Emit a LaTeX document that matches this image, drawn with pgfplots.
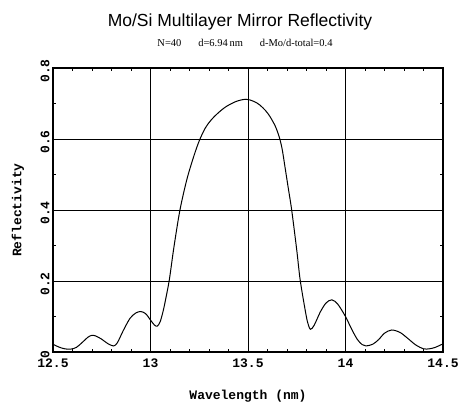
\documentclass[border=0pt]{standalone}
\usepackage{pgfplots}
\pgfplotsset{compat=1.18}
\usepackage{fontspec}
\setmainfont{Liberation Serif}
\newfontfamily\titlefont{Liberation Sans}
\newfontfamily\monofont{Liberation Mono}
\begin{document}
\begin{tikzpicture}
\useasboundingbox (0,0) rectangle (460pt,405pt);
\node[anchor=base, font=\titlefont\fontsize{17.5}{20}\selectfont] at (240pt,378pt) {Mo/Si Multilayer Mirror Reflectivity};
\node[anchor=base, font=\fontsize{10.5}{12}\selectfont] at (245pt,358pt) {N=40\hspace{1.6em}d=6.94\,nm\hspace{1.6em}d-Mo/d-total=0.4};
\begin{axis}[
  at={(53pt,53pt)}, anchor=south west,
  scale only axis, width=390pt, height=284pt,
  xmin=12.5, xmax=14.5, ymin=0, ymax=0.8,
  xtick={12.5,13,13.5,14,14.5},
  ytick={0,0.2,0.4,0.6,0.8},
  minor x tick num=4, minor y tick num=1,
  tick align=inside,
  major tick length=4pt, minor tick length=3pt,
  grid=major,
  major grid style={black, line width=0.8pt},
  axis line style={black, line width=1.1pt},
  every tick/.style={black, line width=0.6pt},
  /pgf/number format/assume math mode=true,
  ticklabel style={font=\monofont\bfseries\fontsize{13}{15}\selectfont},
  xticklabel style={yshift=-3pt},
  yticklabel style={rotate=90, anchor=south, xshift=-3pt},
  xlabel={Wavelength (nm)},
  ylabel={Reflectivity},
  label style={font=\monofont\bfseries\fontsize{13}{15}\selectfont},
  xlabel style={at={(axis description cs:0.5,-0.155)}, anchor=center},
  ylabel style={at={(axis description cs:-0.09,0.5)}, anchor=center},
]
\addplot[black, line width=1pt, smooth, tension=0.5] coordinates {
(12.50,0.022) (12.53,0.014) (12.56,0.009) (12.59,0.008) (12.62,0.013)
(12.65,0.027) (12.68,0.042) (12.70,0.047) (12.72,0.045) (12.75,0.036)
(12.78,0.024) (12.81,0.017) (12.83,0.026) (12.86,0.060) (12.895,0.095)
(12.925,0.110) (12.95,0.114) (12.975,0.108) (13.00,0.090) (13.02,0.076)
(13.035,0.073) (13.05,0.086) (13.066,0.118) (13.08,0.155) (13.097,0.205)
(13.12,0.295) (13.151,0.400) (13.186,0.485) (13.22,0.548) (13.25,0.595)
(13.28,0.630) (13.31,0.653) (13.35,0.675) (13.39,0.692) (13.44,0.706) (13.49,0.712)
(13.53,0.706) (13.56,0.696) (13.59,0.680) (13.613,0.663) (13.64,0.636)
(13.66,0.606) (13.675,0.572) (13.69,0.520) (13.707,0.460) (13.724,0.400)
(13.75,0.287) (13.767,0.205) (13.79,0.128) (13.805,0.085) (13.82,0.064)
(13.84,0.076) (13.87,0.112) (13.90,0.138) (13.93,0.147) (13.96,0.135)
(14.00,0.100) (14.03,0.066) (14.06,0.036) (14.085,0.021) (14.105,0.017)
(14.14,0.022) (14.17,0.035) (14.20,0.053) (14.237,0.062) (14.28,0.055)
(14.32,0.038) (14.36,0.020) (14.40,0.009) (14.43,0.009) (14.46,0.013)
(14.50,0.023)
};
\end{axis}
\end{tikzpicture}
\end{document}
